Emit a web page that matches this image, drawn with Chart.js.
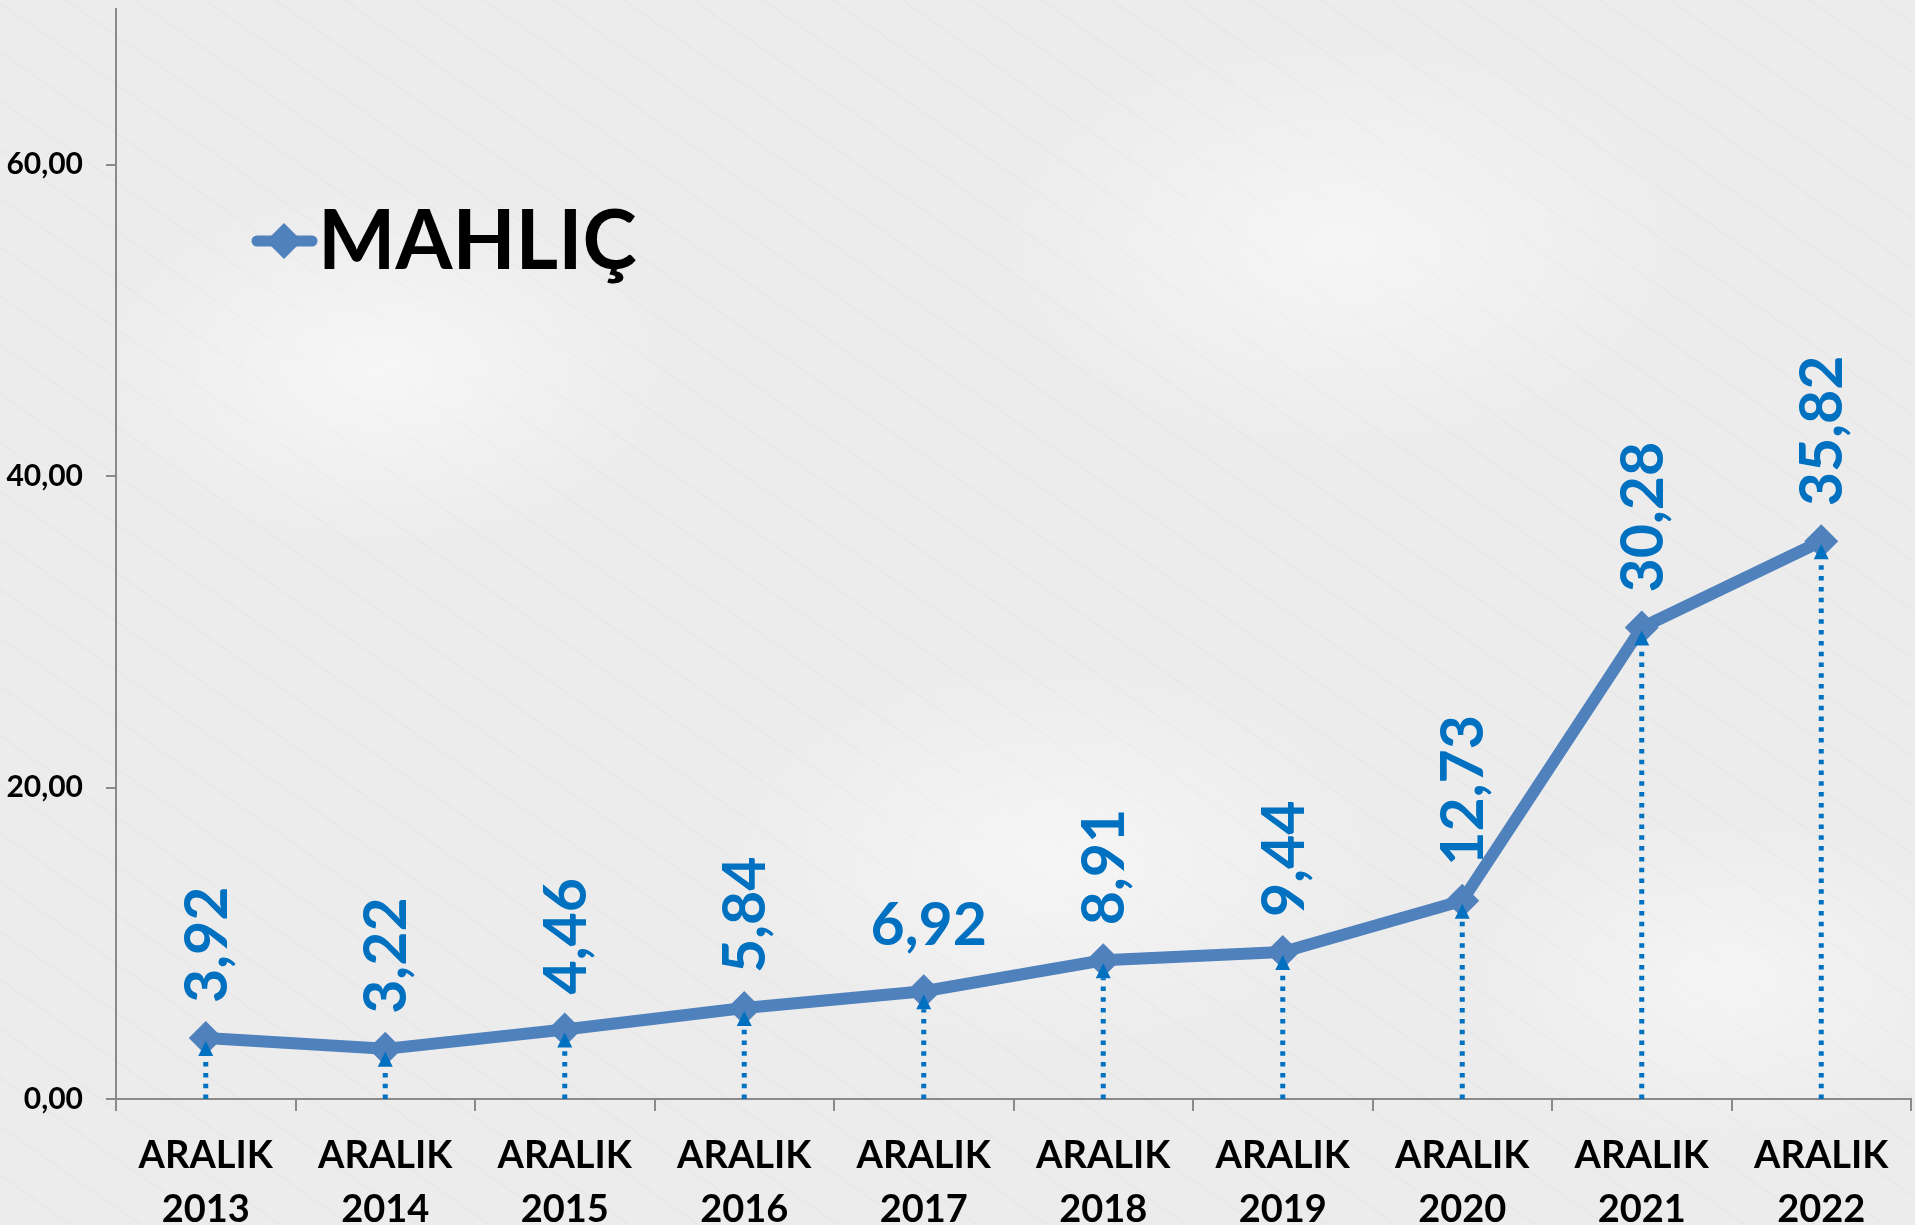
<!DOCTYPE html>
<html>
<head>
<meta charset="utf-8">
<script src="https://cdn.jsdelivr.net/npm/chart.js@4.4.0/dist/chart.umd.min.js"></script>
<style>
  html, body { margin: 0; padding: 0; background: #eeeeee; }
  #wrap {
    width: 1915px; height: 1225px; position: relative; overflow: hidden;
    background:
      radial-gradient(ellipse 420px 260px at 20% 30%, rgba(255,255,255,0.55), rgba(255,255,255,0) 70%),
      radial-gradient(ellipse 500px 300px at 70% 20%, rgba(255,255,255,0.5), rgba(255,255,255,0) 70%),
      radial-gradient(ellipse 480px 280px at 55% 70%, rgba(255,255,255,0.5), rgba(255,255,255,0) 70%),
      radial-gradient(ellipse 380px 240px at 90% 80%, rgba(255,255,255,0.45), rgba(255,255,255,0) 70%),
      repeating-linear-gradient(35deg, rgba(200,200,200,0.10) 0px, rgba(200,200,200,0.10) 2px, rgba(255,255,255,0) 2px, rgba(255,255,255,0) 40px),
      #ececec;
  }
  canvas { display: block; position: absolute; left: 0; top: -8px; }
</style>
</head>
<body>
<div id="wrap"><canvas id="chart" width="1928" height="1233"></canvas></div>
<script>
// ---- Data ----
const years = ['2013', '2014', '2015', '2016', '2017', '2018', '2019', '2020', '2021', '2022'];
const monthLabel = 'ARALIK';
const seriesName = 'MAHLIÇ';
const values = [3.92, 3.22, 4.46, 5.84, 6.92, 8.91, 9.44, 12.73, 30.28, 35.82];
const yTickValues = [0, 20, 40, 60];
const yMin = 0;
const yMax = 70;

const categories = years.map(y => [monthLabel, y]);

// ---- Styles ----
const LINE_COLOR = '#4F81BD';
const LABEL_COLOR = '#0070C0';
const AXIS_COLOR = '#8a8a8a';
const FONT = 'Lato, "Open Sans", "DejaVu Sans", sans-serif';
const horizontalLabelIndex = 4;
const CANVAS_SHIFT = 8; // canvas is placed 8px above the page top

const fmt = v => v.toFixed(2).replace('.', ',');

const dropLinesPlugin = {
  id: 'dropLines',
  afterDatasetsDraw(chart) {
    const ctx = chart.ctx;
    const meta = chart.getDatasetMeta(0);
    const base = chart.scales.y.getPixelForValue(0);
    ctx.save();
    ctx.strokeStyle = LABEL_COLOR;
    ctx.fillStyle = LABEL_COLOR;
    ctx.lineWidth = 5;
    meta.data.forEach(pt => {
      const tip = pt.y + 3;
      const headH = 15, headW = 15;
      ctx.setLineDash([4.5, 6.3]);
      ctx.lineCap = 'butt';
      ctx.beginPath();
      ctx.moveTo(pt.x, base);
      ctx.lineTo(pt.x, tip + headH);
      ctx.stroke();
      ctx.setLineDash([]);
      ctx.beginPath();
      ctx.moveTo(pt.x, tip);
      ctx.lineTo(pt.x - headW / 2, tip + headH);
      ctx.lineTo(pt.x + headW / 2, tip + headH);
      ctx.closePath();
      ctx.fill();
    });
    ctx.restore();
  }
};

const valueLabelsPlugin = {
  id: 'valueLabels',
  afterDatasetsDraw(chart) {
    const ctx = chart.ctx;
    const meta = chart.getDatasetMeta(0);
    const ds = chart.data.datasets[0];
    ctx.save();
    ctx.fillStyle = LABEL_COLOR;
    ctx.font = 'bold 59px ' + FONT;
    meta.data.forEach((pt, i) => {
      const text = fmt(ds.data[i]);
      if (i === horizontalLabelIndex) {
        ctx.textAlign = 'center';
        ctx.textBaseline = 'alphabetic';
        ctx.fillText(text, pt.x + 5, pt.y - 46);
      } else {
        ctx.save();
        ctx.translate(pt.x + 2, pt.y - 35);
        ctx.rotate(-Math.PI / 2);
        ctx.textAlign = 'left';
        ctx.textBaseline = 'middle';
        ctx.fillText(text, 0, 0);
        ctx.restore();
      }
    });
    ctx.restore();
  }
};

const legendPlugin = {
  id: 'customLegend',
  afterDraw(chart) {
    const ctx = chart.ctx;
    const y = 241 + CANVAS_SHIFT;
    ctx.save();
    ctx.strokeStyle = LINE_COLOR;
    ctx.fillStyle = LINE_COLOR;
    ctx.lineWidth = 11;
    ctx.lineCap = 'round';
    ctx.beginPath();
    ctx.moveTo(257, y);
    ctx.lineTo(312, y);
    ctx.stroke();
    const cx = 284, r = 18;
    ctx.beginPath();
    ctx.moveTo(cx, y - r);
    ctx.lineTo(cx + r, y);
    ctx.lineTo(cx, y + r);
    ctx.lineTo(cx - r, y);
    ctx.closePath();
    ctx.fill();
    ctx.fillStyle = '#000';
    ctx.font = 'bold 82px ' + FONT;
    ctx.textAlign = 'left';
    ctx.textBaseline = 'alphabetic';
    ctx.fillText(chart.data.datasets[0].label, 318, 269 + CANVAS_SHIFT);
    ctx.restore();
  }
};

new Chart(document.getElementById('chart'), {
  type: 'line',
  data: {
    labels: categories,
    datasets: [{
      label: seriesName,
      data: values,
      borderColor: LINE_COLOR,
      backgroundColor: LINE_COLOR,
      borderWidth: 12,
      borderJoinStyle: 'round',
      tension: 0,
      pointStyle: 'rectRot',
      pointRadius: 17,
      pointBorderWidth: 0,
      pointBackgroundColor: LINE_COLOR,
      fill: false
    }]
  },
  options: {
    responsive: false,
    animation: false,
    events: [],
    layout: { padding: { top: 0, right: 3, left: 0, bottom: 0 } },
    plugins: { legend: { display: false }, tooltip: { enabled: false } },
    scales: {
      x: {
        offset: true,
        grid: { offset: true, drawOnChartArea: false, drawTicks: true, tickLength: 12, color: AXIS_COLOR, lineWidth: 2 },
        border: { display: true, color: AXIS_COLOR, width: 2 },
        ticks: {
          color: '#000', autoSkip: false, maxRotation: 0, minRotation: 0, padding: 18,
          font: { family: FONT, weight: 'bold', size: 38, lineHeight: 1.42 }
        },
        afterFit(s) { s.height = 126; s.paddingLeft = 0; s.paddingRight = 0; }
      },
      y: {
        min: yMin, max: yMax,
        afterBuildTicks(s) { s.ticks = yTickValues.map(v => ({ value: v })); },
        grid: { drawOnChartArea: false, drawTicks: true, tickLength: 10, color: AXIS_COLOR, lineWidth: 2 },
        border: { display: true, color: AXIS_COLOR, width: 2 },
        ticks: {
          color: '#000', padding: 23,
          font: { family: FONT, weight: 'bold', size: 30, lineHeight: 0.3 },
          callback: v => fmt(v)
        },
        afterFit(s) { s.width = 116; s.paddingTop = 0; s.paddingBottom = 0; }
      }
    }
  },
  plugins: [dropLinesPlugin, valueLabelsPlugin, legendPlugin]
});
</script>
</body>
</html>
